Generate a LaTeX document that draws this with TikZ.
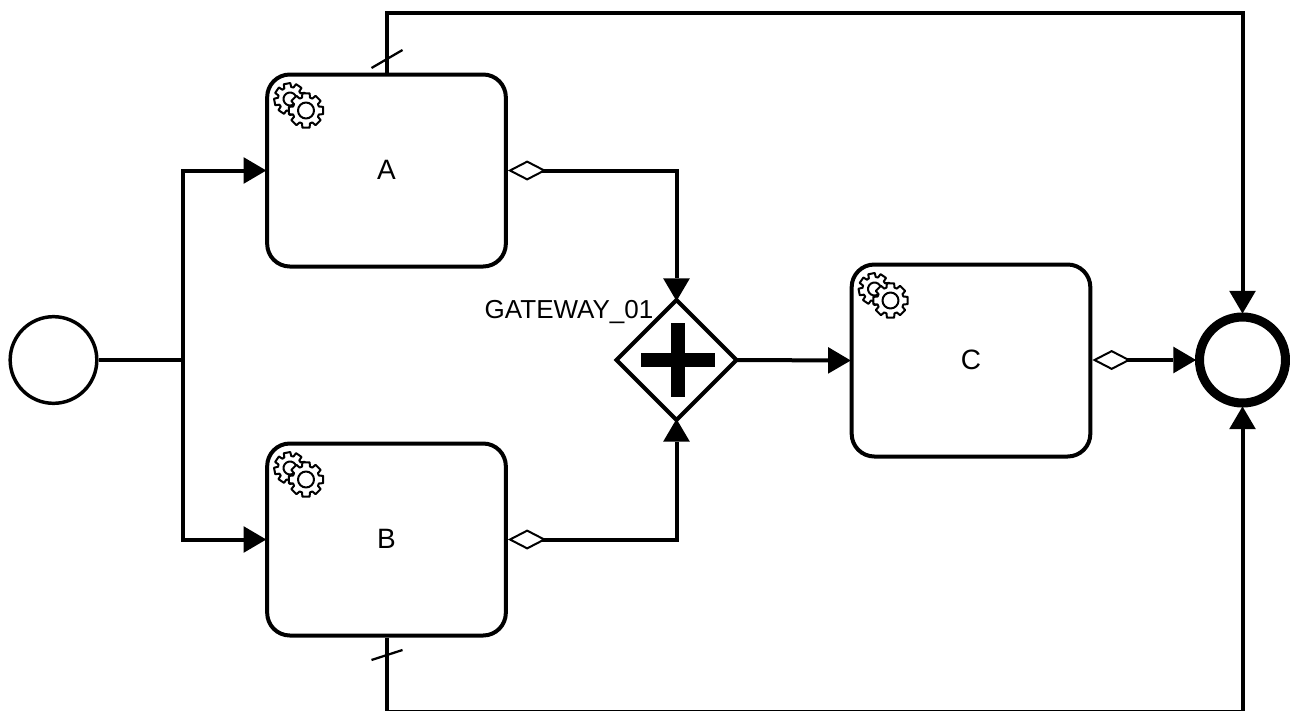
\documentclass[tikz,border=0pt]{standalone}
\usepackage{fontspec}
\setmainfont{Liberation Sans}
\usetikzlibrary{arrows.meta,shapes.geometric,calc}
\tikzset{
  x=0.75pt,y=-0.75pt,
  task/.style={draw=black,fill=white,line width=3pt,rounded corners=17pt,minimum width=179pt,minimum height=144pt,inner sep=0pt,font=\fontsize{21}{23}\selectfont},
  startev/.style={circle,draw=black,fill=white,line width=2.6pt,minimum size=65pt,inner sep=0pt},
  endev/.style={circle,draw=black,fill=white,line width=6.8pt,minimum size=64.5pt,inner sep=0pt},
  gatew/.style={diamond,aspect=1,draw=black,fill=white,line width=3pt,minimum width=90pt,minimum height=90pt,inner sep=0pt,outer sep=0pt},
  lbl/.style={font=\fontsize{19.5}{22}\selectfont,inner sep=0pt},
  flow/.style={line width=3pt,shorten >=-0.8pt,-{Triangle[length=17pt,width=20pt,line width=0pt]}},
  cflow/.style={line width=3pt,shorten >=-0.8pt,{Diamond[length=29pt,width=15pt,open,fill=white,line width=1.5pt]}-{Triangle[length=17pt,width=20pt,line width=0pt]}},
  plain/.style={line width=3pt},
  slash/.style={line width=1.7pt},
  gearline/.style={draw=black,fill=white,line width=1.5pt,line join=round},
  pics/gears/.style={code={
    \foreach \cx/\cy/\ro/\ri/\rh/\tilt in {-16/-11.5/16/12/6.5/11, 0/0/17.5/13.5/8/0}{
      \begin{scope}[shift={(\cx,\cy)},rotate=\tilt]
      \draw[gearline] (-12:\ro)
        \foreach \k in {0,45,...,315}{
          -- (\k-12:\ro) -- (\k+12:\ro) -- (\k+17:\ri) -- (\k+28:\ri)
        } -- cycle;
      \draw[gearline] (0,0) circle[radius=\rh];
      \end{scope}
    }
  }}
}
\begin{document}
\begin{tikzpicture}
\useasboundingbox (0,0) rectangle (1290,711);
\node[startev] (S) at (53.5,360) {};
\node[task] (A) at (386.5,170.5) {\raisebox{1pt}{A}};
\node[task] (B) at (386.5,539.5) {\raisebox{1pt}{B}};
\node[task] (C) at (971,360.5) {\raisebox{1pt}{C}};
\node[gatew] (G) at (676.5,360) {};
\node[endev] (E) at (1242.5,360) {};
\node[lbl,anchor=center] (GL) at (569,312) {GATEWAY\_01};
\coordinate (J) at (183,360);
\coordinate (TR) at (800,13);
\coordinate (BR) at (800,712);
% plus
\fill[black] (640.5,353) rectangle (715,367.2);
\fill[black] (670.8,322.7) rectangle (685,397.2);
% gears
\pic at (306,110.5) {gears};
\pic at (306,479.5) {gears};
\pic at (890.5,300.5) {gears};
% flows
\draw[plain] (S) -- (J);
\draw[flow] (J) |- (A.west);
\draw[flow] (J) |- (B.west);
\draw[cflow] (A.east) -| (G.north);
\draw[cflow] (B.east) -| (G.south);
\draw[flow] (G.east) -- (C.west);
\draw[cflow] (C.east |- E.west) -- (E.west);
\draw[flow] (A.north) |- (TR) -| (E.north);
\draw[flow] (B.south) |- (BR) -| (E.south);
% default-flow slashes
\draw[slash] (371.5,68) -- (402.5,50);
\draw[slash] (371.5,660) -- (402.5,650);
\end{tikzpicture}
\end{document}
